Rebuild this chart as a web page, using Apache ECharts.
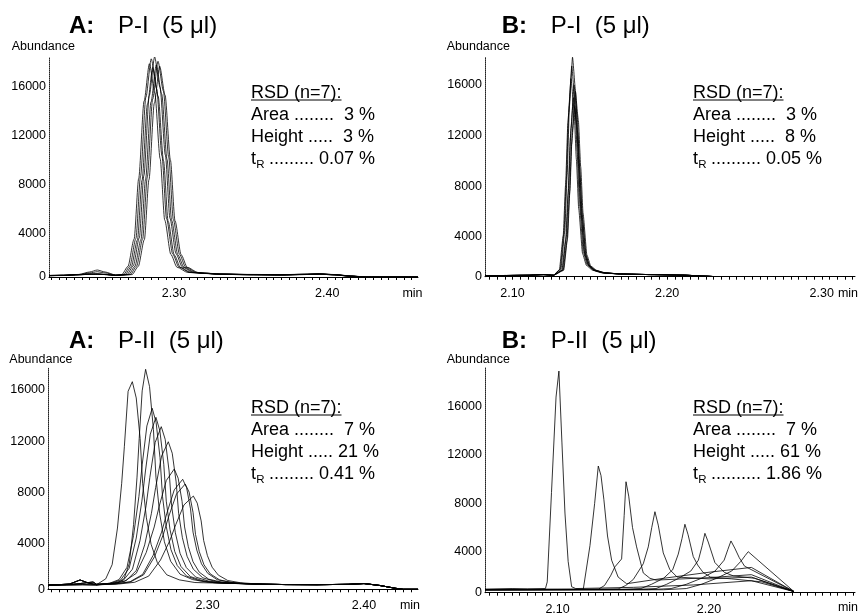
<!DOCTYPE html>
<html><head><meta charset="utf-8">
<script src="https://cdn.jsdelivr.net/npm/echarts@6/dist/echarts.min.js"></script>
<style>html,body{margin:0;padding:0;background:#fff}#c{width:861px;height:614px}</style>
</head><body><div id="c"></div>
<script>
// ---------- tick labels ----------
const AT_XLABELS = [2.30, 2.40];
const BT_XLABELS = [2.10, 2.20, 2.30];
const AB_XLABELS = [2.30, 2.40];
const BB_XLABELS = [2.10, 2.20];
const Y_LABELS = [4000, 8000, 12000, 16000];

// ---------- RSD texts ----------
const AT_RSD = ['Area ........  3 %', 'Height .....  3 %', ' ......... 0.07 %'];
const BT_RSD = ['Area ........  3 %', 'Height .....  8 %', ' .......... 0.05 %'];
const AB_RSD = ['Area ........  7 %', 'Height ..... 21 %', ' ......... 0.41 %'];
const BB_RSD = ['Area ........  7 %', 'Height ..... 61 %', ' .......... 1.86 %'];

// ---------- A: P-I traces [time (min), abundance] ----------
const AT1 = [[2.2185,620],[2.228,640],[2.238,700],[2.245,900],[2.250,1060],[2.255,900],[2.262,650],[2.2660,690],[2.2700,1360],[2.2740,3580],[2.2770,8520],[2.2805,14840],[2.2840,17900],[2.2875,15510],[2.2910,10150],[2.2940,5130],[2.2980,2330],[2.3020,1290],[2.3090,860],[2.320,800],[2.330,730],[2.350,690],[2.370,670],[2.385,710],[2.395,740],[2.405,680],[2.415,570],[2.425,490],[2.4592,490]];
const AT2 = [[2.2185,610],[2.228,630],[2.238,690],[2.245,820],[2.250,920],[2.255,820],[2.262,640],[2.2672,690],[2.2712,1380],[2.2752,3640],[2.2782,8710],[2.2817,15170],[2.2852,18300],[2.2887,15860],[2.2922,10370],[2.2952,5240],[2.2992,2370],[2.3032,1310],[2.3102,870],[2.320,790],[2.330,720],[2.350,680],[2.370,660],[2.385,700],[2.395,730],[2.405,670],[2.415,560],[2.425,490],[2.4592,490]];
const AT3 = [[2.2185,600],[2.228,620],[2.238,680],[2.245,720],[2.250,740],[2.255,700],[2.262,630],[2.2682,685],[2.2722,1350],[2.2762,3520],[2.2792,8390],[2.2827,14590],[2.2862,17600],[2.2897,15250],[2.2932,9980],[2.2962,5050],[2.3002,2300],[2.3042,1280],[2.3112,855],[2.320,780],[2.330,710],[2.350,670],[2.370,650],[2.385,690],[2.395,720],[2.405,660],[2.415,550],[2.425,490],[2.4592,490]];
const AT4 = [[2.2185,590],[2.228,610],[2.238,670],[2.245,710],[2.250,720],[2.255,690],[2.262,620],[2.2694,690],[2.2734,1385],[2.2774,3670],[2.2804,8775],[2.2839,15290],[2.2874,18450],[2.2909,15990],[2.2944,10450],[2.2974,5280],[2.3014,2385],[2.3054,1315],[2.3124,870],[2.320,810],[2.330,740],[2.350,700],[2.370,680],[2.385,720],[2.395,750],[2.405,690],[2.415,580],[2.425,500],[2.4592,490]];
const AT5 = [[2.2185,600],[2.228,620],[2.238,680],[2.245,730],[2.250,730],[2.255,700],[2.262,630],[2.2705,686],[2.2745,1360],[2.2785,3560],[2.2815,8480],[2.2850,14760],[2.2885,17800],[2.2920,15430],[2.2955,10090],[2.2985,5110],[2.3025,2320],[2.3065,1290],[2.3135,860],[2.320,790],[2.330,720],[2.350,680],[2.370,660],[2.385,700],[2.395,730],[2.405,670],[2.415,560],[2.425,490],[2.4592,490]];
const AT6 = [[2.2185,610],[2.228,630],[2.238,690],[2.245,720],[2.250,720],[2.255,690],[2.262,630],[2.2716,688],[2.2756,1370],[2.2796,3610],[2.2826,8615],[2.2861,15000],[2.2896,18100],[2.2931,15685],[2.2966,10260],[2.2996,5185],[2.3036,2350],[2.3076,1300],[2.3146,863],[2.320,800],[2.330,730],[2.350,690],[2.370,670],[2.385,710],[2.395,740],[2.405,680],[2.415,570],[2.425,490],[2.4592,490]];
const AT7 = [[2.2185,600],[2.228,620],[2.238,670],[2.245,710],[2.250,720],[2.255,690],[2.262,620],[2.2727,686],[2.2767,1352],[2.2807,3541],[2.2837,8432],[2.2872,14673],[2.2907,17700],[2.2942,15340],[2.2977,10039],[2.3007,5080],[2.3047,2310],[2.3087,1284],[2.3157,856],[2.320,780],[2.330,710],[2.350,670],[2.370,650],[2.385,690],[2.395,720],[2.405,660],[2.415,550],[2.425,490],[2.4592,490]];

// ---------- B: P-I traces ----------
const BT_PRE = [[2.0822,900],[2.095,930],[2.110,950],[2.120,1000],[2.1265,950]];
const BT_POST = [[2.170,1050],[2.190,1000],[2.210,960],[2.225,880],[2.232,835],[2.3215,835]];
const BT1 = [[2.1313,1433],[2.1338,4452],[2.1353,8851],[2.1368,14319],[2.1388,18200],[2.1408,15457],[2.1423,11110],[2.1438,6798],[2.1463,2848],[2.1488,1813],[2.1528,1381],[2.1588,1157]];
const BT2 = [[2.1303,1385],[2.1328,4107],[2.1343,8072],[2.1358,13001],[2.1378,16500],[2.1398,14028],[2.1413,10109],[2.1428,6221],[2.1453,2661],[2.1478,1728],[2.1518,1339],[2.1578,1137]];
const BT3 = [[2.1308,1413],[2.1333,4310],[2.1348,8530],[2.1363,13776],[2.1383,17500],[2.1403,14869],[2.1418,10698],[2.1433,6560],[2.1458,2771],[2.1483,1778],[2.1523,1364],[2.1583,1149]];
const BT4 = [[2.1319,1343],[2.1344,3802],[2.1359,7385],[2.1374,11839],[2.1394,15000],[2.1414,12766],[2.1429,9225],[2.1444,5713],[2.1469,2496],[2.1494,1653],[2.1534,1301],[2.1594,1119]];
const BT5 = [[2.1323,1371],[2.1348,4005],[2.1363,7843],[2.1378,12614],[2.1398,16000],[2.1418,13607],[2.1433,9814],[2.1448,6052],[2.1473,2606],[2.1498,1703],[2.1538,1326],[2.1598,1131]];
const BT6 = [[2.1327,1324],[2.1352,3660],[2.1367,7064],[2.1382,11296],[2.1402,14300],[2.1422,12177],[2.1437,8813],[2.1452,5476],[2.1477,2419],[2.1502,1618],[2.1542,1284],[2.1602,1110]];
const BT7 = [[2.1331,1357],[2.1356,3904],[2.1371,7614],[2.1386,12226],[2.1406,15500],[2.1426,13187],[2.1441,9520],[2.1456,5882],[2.1481,2551],[2.1506,1678],[2.1546,1314],[2.1606,1125]];

// ---------- A: P-II traces ----------
const AB_PRE1 = [[2.198,740],[2.205,760],[2.212,820],[2.2185,1130],[2.224,880],[2.229,760]];
const AB_PRE2 = [[2.198,730],[2.205,750],[2.212,780],[2.2185,850],[2.2268,970],[2.229,800]];
const AB_PRE3 = [[2.198,720],[2.210,740],[2.220,760],[2.229,740]];
const AB_POST = [[2.335,800],[2.350,770],[2.370,760],[2.390,790],[2.400,850],[2.410,700],[2.420,480],[2.425,400],[2.4345,400]];
const AB1 = [[2.2301,899],[2.2349,1217],[2.2390,2331],[2.2424,5195],[2.2451,8695],[2.2468,11559],[2.2492,15900],[2.2519,16650],[2.2544,15377],[2.2569,12195],[2.2585,8695],[2.2609,5990],[2.2639,3922],[2.2679,2490],[2.2739,1536],[2.2819,1138],[2.2919,931]];
const AB2 = [[2.2428,909],[2.2467,1246],[2.2500,2428],[2.2527,5466],[2.2549,9180],[2.2563,12218],[2.2582,15932],[2.2604,17620],[2.2629,16270],[2.2654,12894],[2.2670,9180],[2.2694,6310],[2.2724,4116],[2.2764,2597],[2.2824,1584],[2.2904,1162],[2.3004,943]];
const AB3 = [[2.2374,878],[2.2434,1155],[2.2485,2123],[2.2527,4612],[2.2561,7655],[2.2582,10144],[2.2612,13187],[2.2646,14570],[2.2671,13464],[2.2696,10698],[2.2712,7655],[2.2736,5304],[2.2766,3506],[2.2806,2261],[2.2866,1432],[2.2946,1086],[2.3046,906]];
const AB4 = [[2.2382,871],[2.2445,1134],[2.2499,2052],[2.2544,4414],[2.2580,7300],[2.2603,9662],[2.2634,12548],[2.2670,13860],[2.2695,12810],[2.2720,10186],[2.2736,7300],[2.2760,5070],[2.2790,3364],[2.2830,2183],[2.2890,1396],[2.2970,1068],[2.3070,897]];
const AB5 = [[2.2394,864],[2.2462,1112],[2.2520,1979],[2.2568,4209],[2.2607,6935],[2.2631,9165],[2.2665,11891],[2.2704,13130],[2.2729,12139],[2.2754,9661],[2.2770,6935],[2.2794,4829],[2.2824,3218],[2.2864,2103],[2.2924,1360],[2.3004,1050],[2.3104,889]];
const AB6 = [[2.2403,852],[2.2479,1076],[2.2544,1861],[2.2598,3879],[2.2641,6345],[2.2668,8363],[2.2706,10829],[2.2749,11950],[2.2774,11053],[2.2799,8811],[2.2815,6345],[2.2839,4439],[2.2869,2982],[2.2909,1973],[2.2969,1301],[2.3049,1020],[2.3149,875]];
const AB7 = [[2.2377,831],[2.2467,1012],[2.2544,1648],[2.2608,3282],[2.2659,5280],[2.2691,6914],[2.2736,8912],[2.2787,9820],[2.2812,9094],[2.2837,7278],[2.2853,5280],[2.2877,3736],[2.2907,2556],[2.2947,1739],[2.3007,1194],[2.3087,967],[2.3187,849]];
const AB8 = [[2.2409,823],[2.2504,988],[2.2585,1567],[2.2652,3056],[2.2706,4875],[2.2740,6364],[2.2787,8183],[2.2841,9010],[2.2866,8348],[2.2891,6694],[2.2907,4875],[2.2931,3469],[2.2961,2394],[2.3001,1650],[2.3061,1154],[2.3141,947],[2.3241,839]];
const AB9 = [[2.2409,819],[2.2507,977],[2.2591,1530],[2.2661,2952],[2.2717,4690],[2.2752,6112],[2.2801,7850],[2.2857,8640],[2.2882,8008],[2.2907,6428],[2.2923,4690],[2.2947,3347],[2.2977,2320],[2.3017,1609],[2.3077,1135],[2.3157,938],[2.3257,835]];
const AB10 = [[2.2429,810],[2.2534,949],[2.2624,1436],[2.2699,2689],[2.2759,4220],[2.2797,5473],[2.2849,7004],[2.2909,7700],[2.2934,7143],[2.2959,5751],[2.2975,4220],[2.2999,3037],[2.3029,2132],[2.3069,1506],[2.3129,1088],[2.3209,914],[2.3309,824]];

// ---------- B: P-II traces ----------
const BB1 = [[2.0521,900],[2.070,950],[2.080,920],[2.0920,950],[2.0932,1500],[2.0960,8900],[2.0990,16800],[2.1009,18950],[2.1029,13000],[2.1049,7200],[2.1070,3200],[2.1093,1100],[2.1120,950],[2.150,1050],[2.190,1250],[2.228,1600],[2.2561,700]];
const BB2 = [[2.0521,880],[2.090,900],[2.1170,900],[2.1181,1000],[2.1214,4500],[2.1245,8000],[2.1269,11090],[2.1287,10300],[2.1306,8300],[2.1330,5300],[2.1357,3300],[2.1400,1900],[2.1456,1350],[2.170,1800],[2.200,2300],[2.228,2700],[2.2561,700]];
const BB3 = [[2.0521,870],[2.100,880],[2.1270,900],[2.1310,1200],[2.1350,2000],[2.1379,2750],[2.1423,3400],[2.1440,7000],[2.1452,9790],[2.1470,8600],[2.1495,6000],[2.1522,4400],[2.1566,2240],[2.1610,1800],[2.1650,1650],[2.200,1850],[2.228,2100],[2.2561,700]];
const BB4 = [[2.0521,860],[2.120,880],[2.1400,920],[2.1450,1200],[2.1500,1700],[2.1566,3000],[2.1599,4400],[2.1622,6000],[2.1643,7310],[2.1665,6200],[2.1698,3900],[2.1742,2500],[2.1790,1900],[2.2000,1750],[2.2280,1900],[2.2561,700]];
const BB5 = [[2.0521,850],[2.140,880],[2.1550,950],[2.1620,1300],[2.1700,1800],[2.1760,2500],[2.1797,3800],[2.1822,5100],[2.1841,6270],[2.1862,5400],[2.1896,3600],[2.1925,2900],[2.1960,2300],[2.2010,1900],[2.2150,1750],[2.2350,1500],[2.2561,700]];
const BB6 = [[2.0521,840],[2.150,870],[2.1650,950],[2.1720,1300],[2.1800,1800],[2.1880,2400],[2.1930,3300],[2.1955,4500],[2.1973,5520],[2.1995,4800],[2.2039,3100],[2.2070,2700],[2.2100,2300],[2.2160,2000],[2.2300,1800],[2.2561,700]];
const BB7 = [[2.0521,830],[2.160,860],[2.1750,950],[2.1850,1300],[2.1950,1800],[2.2040,2400],[2.2100,3300],[2.2125,4200],[2.2145,4890],[2.2170,4300],[2.2200,3500],[2.2235,2800],[2.2561,700]];
const BB8 = [[2.0521,820],[2.170,850],[2.1850,950],[2.1950,1300],[2.2050,1800],[2.2150,2400],[2.2210,3200],[2.2240,3700],[2.2259,4000],[2.2561,700]];

// ---------- layout ----------
const FONT = '"Liberation Sans", Arial, Helvetica, sans-serif';
const panels = [
  {grid:{left:49, top:57, width:369, height:220}, x:[2.2185,2.4592], y:[490,18450], xl:AT_XLABELS, smooth:0.25,
   traces:[AT1,AT2,AT3,AT4,AT5,AT6,AT7]},
  {grid:{left:485, top:57, width:370, height:219.7}, x:[2.0822,2.3215], y:[835,18216], xl:BT_XLABELS, smooth:0.15,
   traces:[BT1,BT2,BT3,BT4,BT5,BT6,BT7].map(t => BT_PRE.concat(t, BT_POST))},
  {grid:{left:48, top:368, width:370, height:221.3}, x:[2.198,2.4345], y:[400,17722], xl:AB_XLABELS, smooth:false,
   traces:[[AB_PRE1,AB1],[AB_PRE2,AB2],[AB_PRE3,AB3],[AB_PRE1,AB4],[AB_PRE2,AB5],[AB_PRE3,AB6],[AB_PRE1,AB7],[AB_PRE2,AB8],[AB_PRE3,AB9],[AB_PRE1,AB10]]
     .map(p => p[0].concat(p[1], AB_POST))},
  {grid:{left:485, top:368, width:370, height:224.7}, x:[2.0521,2.2964], y:[607,19203], xl:BB_XLABELS, smooth:false,
   traces:[BB1,BB2,BB3,BB4,BB5,BB6,BB7,BB8]}
];

function minorTicks(min, max) {
  const out = [];
  for (let k = Math.ceil(min / 0.005 - 1e-9); k * 0.005 <= max + 1e-9; k++) out.push(+(k * 0.005).toFixed(3));
  return out;
}

const grids = [], xAxes = [], yAxes = [], series = [];
panels.forEach((p, i) => {
  grids.push(Object.assign({outerBoundsMode:'none', containLabel:false}, p.grid));
  xAxes.push({
    type:'value', gridIndex:i, min:p.x[0], max:p.x[1],
    axisLine:{show:true, onZero:false, lineStyle:{color:'#000', width:1}},
    axisTick:{show:true, customValues:minorTicks(p.x[0], p.x[1]), length:3, lineStyle:{color:'#000', width:1}},
    axisLabel:{customValues:p.xl, formatter:v => v.toFixed(2), fontSize:12.5, fontFamily:FONT, color:'#000', margin:10},
    splitLine:{show:false}
  });
  yAxes.push({
    type:'value', gridIndex:i, min:p.y[0], max:p.y[1],
    axisLine:{show:true, onZero:false, lineStyle:{color:'#222', width:1, type:[1,1]}},
    axisTick:{show:false},
    axisLabel:{customValues:[p.y[0]].concat(Y_LABELS), formatter:v => (v < 2000 ? '0' : String(v)),
               fontSize:12.5, fontFamily:FONT, color:'#000', margin:3},
    splitLine:{show:false}
  });
  p.traces.forEach(tr => series.push({
    type:'line', xAxisIndex:i, yAxisIndex:i, data:tr, symbol:'none', showSymbol:false,
    smooth:p.smooth, smoothMonotone:'x',
    lineStyle:{color:'#000', width:0.8}, silent:true, animation:false
  }));
});

function txt(x, y, text, size, opts) {
  return Object.assign({type:'text', x:x, y:y, silent:true,
    style:Object.assign({text:text, fontSize:size, fontFamily:FONT, fill:'#000',
      textAlign:'left', textVerticalAlign:'middle', align:'left', verticalAlign:'middle'}, (opts||{}))});
}
function rsd(x, y0, lines) {
  return [
    txt(x, y0, 'RSD (n=7):', 18),
    {type:'line', silent:true, shape:{x1:x, y1:y0+7, x2:x+90.5, y2:y0+7}, style:{stroke:'#000', lineWidth:1}},
    txt(x, y0+22, lines[0], 18),
    txt(x, y0+44, lines[1], 18),
    txt(x, y0+66, 't', 18),
    txt(x+5.2, y0+72, 'R', 11.5),
    txt(x+13, y0+66, lines[2], 18)
  ];
}
const graphics = [
  txt(69, 26, 'A:', 24, {fontWeight:'bold'}), txt(118, 26, 'P-I  (5 μl)', 24),
  txt(501.7, 26, 'B:', 24, {fontWeight:'bold'}), txt(550.7, 26, 'P-I  (5 μl)', 24),
  txt(69, 341, 'A:', 24, {fontWeight:'bold'}), txt(118, 341, 'P-II  (5 μl)', 24),
  txt(501.7, 341, 'B:', 24, {fontWeight:'bold'}), txt(550.7, 341, 'P-II  (5 μl)', 24),
  txt(11.7, 46.7, 'Abundance', 12.5), txt(446.7, 46.7, 'Abundance', 12.5),
  txt(9.3, 360, 'Abundance', 12.5), txt(446.7, 360, 'Abundance', 12.5),
  txt(412.5, 294, 'min', 12.5, {textAlign:'center', align:'center'}),
  txt(848, 294, 'min', 12.5, {textAlign:'center', align:'center'}),
  txt(410, 606, 'min', 12.5, {textAlign:'center', align:'center'}),
  txt(848, 608, 'min', 12.5, {textAlign:'center', align:'center'})
].concat(rsd(251, 93, AT_RSD), rsd(693, 93, BT_RSD), rsd(251, 408, AB_RSD), rsd(693, 408, BB_RSD));

const chart = echarts.init(document.getElementById('c'), null, {renderer:'canvas', width:861, height:614});
chart.setOption({
  animation:false, backgroundColor:'#fff',
  grid:grids, xAxis:xAxes, yAxis:yAxes, series:series,
  graphic:{elements:graphics}
});
</script></body></html>
